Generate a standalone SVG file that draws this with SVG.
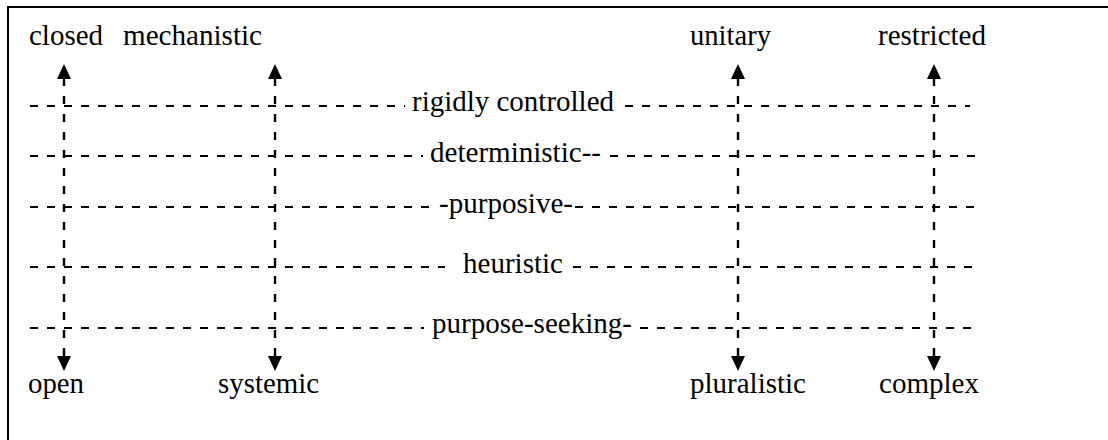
<svg xmlns="http://www.w3.org/2000/svg" width="1108" height="440" viewBox="0 0 1108 440">
<style>
.t{font-family:"Liberation Serif","DejaVu Serif","Noto Serif",serif;font-size:29px;fill:#000}
.h{stroke:#000;stroke-width:2.2;stroke-dasharray:8 9;fill:none}
.v{stroke:#000;stroke-width:2.4;stroke-dasharray:8 10;fill:none}
</style>
<defs>
<marker id="ah" viewBox="0 0 15 14" markerWidth="15" markerHeight="14" refX="0" refY="7" orient="auto-start-reverse" markerUnits="userSpaceOnUse">
<path d="M0,0 L15,7 L0,14 z" fill="#000"/>
</marker>
</defs>
<rect width="1108" height="440" fill="#fff"/>
<g id="frame">
<path d="M8,440 V7 H1108" stroke="#000" stroke-width="2" fill="none"/>
</g>
<g id="connectors">
<path class="h" d="M30,106 H405 M625,106 H970"/>
<path class="h" d="M30,156 H423 M610,156 H978"/>
<path class="h" d="M30,207 H434 M575,207 H976"/>
<path class="h" d="M30,267 H445 M573,267 H976"/>
<path class="h" d="M30,328 H424 M640,328 H976"/>
<path class="v" d="M64,356 V79" marker-start="url(#ah)" marker-end="url(#ah)"/>
<path class="v" d="M275,356 V79" marker-start="url(#ah)" marker-end="url(#ah)"/>
<path class="v" d="M738,356 V79" marker-start="url(#ah)" marker-end="url(#ah)"/>
<path class="v" d="M934,356 V79" marker-start="url(#ah)" marker-end="url(#ah)"/>
</g>
<g id="closed"><text class="t" x="29" y="45" textLength="74" lengthAdjust="spacingAndGlyphs">closed</text></g>
<g id="mechanistic"><text class="t" x="123" y="45" textLength="139" lengthAdjust="spacingAndGlyphs">mechanistic</text></g>
<g id="unitary"><text class="t" x="690" y="45" textLength="81" lengthAdjust="spacingAndGlyphs">unitary</text></g>
<g id="restricted"><text class="t" x="878" y="45" textLength="108" lengthAdjust="spacingAndGlyphs">restricted</text></g>
<g id="rigidly-controlled"><text class="t" x="412" y="111" textLength="202" lengthAdjust="spacingAndGlyphs">rigidly controlled</text></g>
<g id="deterministic"><text class="t" x="430" y="162" textLength="171" lengthAdjust="spacingAndGlyphs">deterministic--</text></g>
<g id="purposive"><text class="t" x="439" y="213" textLength="134" lengthAdjust="spacingAndGlyphs">-purposive-</text></g>
<g id="heuristic"><text class="t" x="463" y="273" textLength="100" lengthAdjust="spacingAndGlyphs">heuristic</text></g>
<g id="purpose-seeking"><text class="t" x="432" y="333" textLength="200" lengthAdjust="spacingAndGlyphs">purpose-seeking-</text></g>
<g id="open"><text class="t" x="28" y="393" textLength="56" lengthAdjust="spacingAndGlyphs">open</text></g>
<g id="systemic"><text class="t" x="218" y="393" textLength="101" lengthAdjust="spacingAndGlyphs">systemic</text></g>
<g id="pluralistic"><text class="t" x="690" y="393" textLength="116" lengthAdjust="spacingAndGlyphs">pluralistic</text></g>
<g id="complex"><text class="t" x="879" y="393" textLength="100" lengthAdjust="spacingAndGlyphs">complex</text></g>
</svg>
